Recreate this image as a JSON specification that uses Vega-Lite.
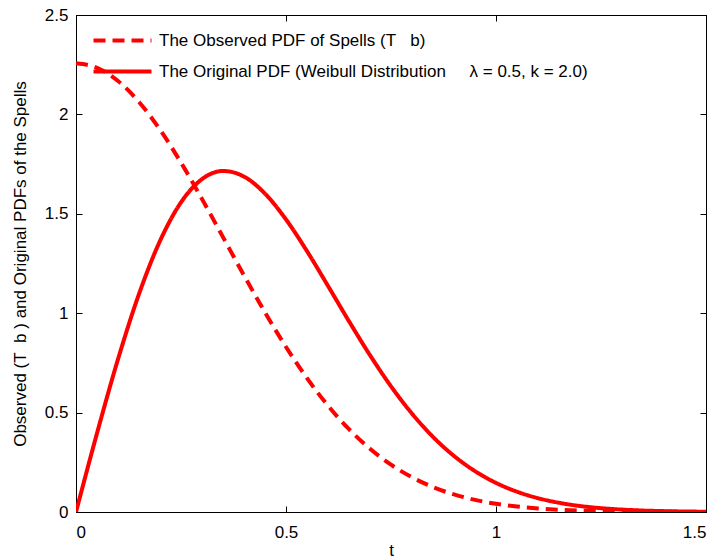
{
  "$schema": "https://vega.github.io/schema/vega-lite/v6.json",
  "width": 630,
  "height": 497,
  "autosize": "none",
  "padding": {"left": 76, "top": 15, "right": 15, "bottom": 47},
  "background": "white",
  "config": {
    "font": "Liberation Sans",
    "view": {"stroke": "black", "strokeWidth": 1},
    "axis": {
      "grid": false,
      "domainColor": "black",
      "tickColor": "black",
      "tickSize": -6,
      "labelColor": "black",
      "labelFontSize": 17,
      "labelFont": "Liberation Sans",
      "titleFont": "Liberation Sans",
      "titleFontSize": 17,
      "titleFontWeight": "normal",
      "titleColor": "black"
    }
  },
  "data": {
    "values": [
      {"t": 0, "pdf": 2.2568, "series": "Observed"},
      {"t": 0.05, "pdf": 2.2344, "series": "Observed"},
      {"t": 0.1, "pdf": 2.1683, "series": "Observed"},
      {"t": 0.15, "pdf": 2.0626, "series": "Observed"},
      {"t": 0.2, "pdf": 1.9231, "series": "Observed"},
      {"t": 0.25, "pdf": 1.7576, "series": "Observed"},
      {"t": 0.3, "pdf": 1.5745, "series": "Observed"},
      {"t": 0.35, "pdf": 1.3826, "series": "Observed"},
      {"t": 0.4, "pdf": 1.19, "series": "Observed"},
      {"t": 0.45, "pdf": 1.004, "series": "Observed"},
      {"t": 0.5, "pdf": 0.8302, "series": "Observed"},
      {"t": 0.55, "pdf": 0.673, "series": "Observed"},
      {"t": 0.6, "pdf": 0.5347, "series": "Observed"},
      {"t": 0.65, "pdf": 0.4164, "series": "Observed"},
      {"t": 0.7, "pdf": 0.3179, "series": "Observed"},
      {"t": 0.75, "pdf": 0.2379, "series": "Observed"},
      {"t": 0.8, "pdf": 0.1745, "series": "Observed"},
      {"t": 0.85, "pdf": 0.1254, "series": "Observed"},
      {"t": 0.9, "pdf": 0.0884, "series": "Observed"},
      {"t": 0.95, "pdf": 0.061, "series": "Observed"},
      {"t": 1.0, "pdf": 0.0413, "series": "Observed"},
      {"t": 1.05, "pdf": 0.0274, "series": "Observed"},
      {"t": 1.1, "pdf": 0.0179, "series": "Observed"},
      {"t": 1.15, "pdf": 0.0114, "series": "Observed"},
      {"t": 1.2, "pdf": 0.0071, "series": "Observed"},
      {"t": 1.25, "pdf": 0.0044, "series": "Observed"},
      {"t": 1.3, "pdf": 0.0026, "series": "Observed"},
      {"t": 1.35, "pdf": 0.0015, "series": "Observed"},
      {"t": 1.4, "pdf": 0.0009, "series": "Observed"},
      {"t": 1.45, "pdf": 0.0005, "series": "Observed"},
      {"t": 1.5, "pdf": 0.0003, "series": "Observed"},
      {"t": 0, "pdf": 0, "series": "Original"},
      {"t": 0.05, "pdf": 0.396, "series": "Original"},
      {"t": 0.1, "pdf": 0.7686, "series": "Original"},
      {"t": 0.15, "pdf": 1.0967, "series": "Original"},
      {"t": 0.2, "pdf": 1.3634, "series": "Original"},
      {"t": 0.25, "pdf": 1.5576, "series": "Original"},
      {"t": 0.3, "pdf": 1.6744, "series": "Original"},
      {"t": 0.35, "pdf": 1.7154, "series": "Original"},
      {"t": 0.4, "pdf": 1.6873, "series": "Original"},
      {"t": 0.45, "pdf": 1.6015, "series": "Original"},
      {"t": 0.5, "pdf": 1.4715, "series": "Original"},
      {"t": 0.55, "pdf": 1.3121, "series": "Original"},
      {"t": 0.6, "pdf": 1.1373, "series": "Original"},
      {"t": 0.65, "pdf": 0.9595, "series": "Original"},
      {"t": 0.7, "pdf": 0.7888, "series": "Original"},
      {"t": 0.75, "pdf": 0.6324, "series": "Original"},
      {"t": 0.8, "pdf": 0.4947, "series": "Original"},
      {"t": 0.85, "pdf": 0.3779, "series": "Original"},
      {"t": 0.9, "pdf": 0.282, "series": "Original"},
      {"t": 0.95, "pdf": 0.2056, "series": "Original"},
      {"t": 1.0, "pdf": 0.1465, "series": "Original"},
      {"t": 1.05, "pdf": 0.1021, "series": "Original"},
      {"t": 1.1, "pdf": 0.0696, "series": "Original"},
      {"t": 1.15, "pdf": 0.0464, "series": "Original"},
      {"t": 1.2, "pdf": 0.0302, "series": "Original"},
      {"t": 1.25, "pdf": 0.0193, "series": "Original"},
      {"t": 1.3, "pdf": 0.0121, "series": "Original"},
      {"t": 1.35, "pdf": 0.0073, "series": "Original"},
      {"t": 1.4, "pdf": 0.0044, "series": "Original"},
      {"t": 1.45, "pdf": 0.0026, "series": "Original"},
      {"t": 1.5, "pdf": 0.0014, "series": "Original"}
    ]
  },
  "layer": [
    {
      "mark": {"type": "line", "color": "#ff0000", "strokeWidth": 4, "interpolate": "monotone", "clip": true},
      "encoding": {
        "x": {
          "field": "t", "type": "quantitative",
          "scale": {"domain": [0, 1.5], "nice": false, "zero": false},
          "axis": {"orient": "bottom", "values": [0, 0.5, 1, 1.5], "format": "~g", "title": "t", "labelPadding": 18, "titlePadding": 2}
        },
        "y": {
          "field": "pdf", "type": "quantitative",
          "scale": {"domain": [0, 2.5], "nice": false},
          "axis": {"orient": "left", "values": [0, 0.5, 1, 1.5, 2, 2.5], "format": "~g", "title": "Observed (T\u00a0\u00a0b\u00a0) and Original PDFs of the Spells", "labelPadding": 14, "titlePadding": 15}
        },
        "strokeDash": {
          "field": "series", "type": "nominal",
          "scale": {"domain": ["Observed", "Original"], "range": [[12, 7], [1, 0]]},
          "legend": {
            "title": null,
            "orient": "none",
            "legendX": 37,
            "legendY": 16,
            "symbolType": "M-4,0H4",
            "symbolStrokeColor": "#ff0000",
            "symbolFillColor": "transparent",
            "symbolStrokeWidth": 4,
            "symbolSize": 210,
            "labelFontSize": 17,
            "labelFont": "Liberation Sans",
            "labelColor": "black",
            "labelLimit": 0,
            "labelOffset": 27,
            "labelExpr": "datum.value == 'Observed' ? 'The Observed PDF of Spells (T\u00a0\u00a0\u00a0b)' : 'The Original PDF (Weibull Distribution\u00a0\u00a0\u00a0\u00a0 λ = 0.5, k = 2.0)'",
            "rowPadding": 13
          }
        }
      }
    },
    {
      "mark": {"type": "point", "opacity": 0},
      "encoding": {
        "x": {"field": "t", "type": "quantitative", "axis": {"orient": "top", "values": [0, 0.5, 1, 1.5], "labels": false, "title": null}},
        "y": {"field": "pdf", "type": "quantitative", "axis": {"orient": "right", "values": [0, 0.5, 1, 1.5, 2, 2.5], "labels": false, "title": null}}
      }
    }
  ],
  "resolve": {"axis": {"x": "independent", "y": "independent"}}
}
